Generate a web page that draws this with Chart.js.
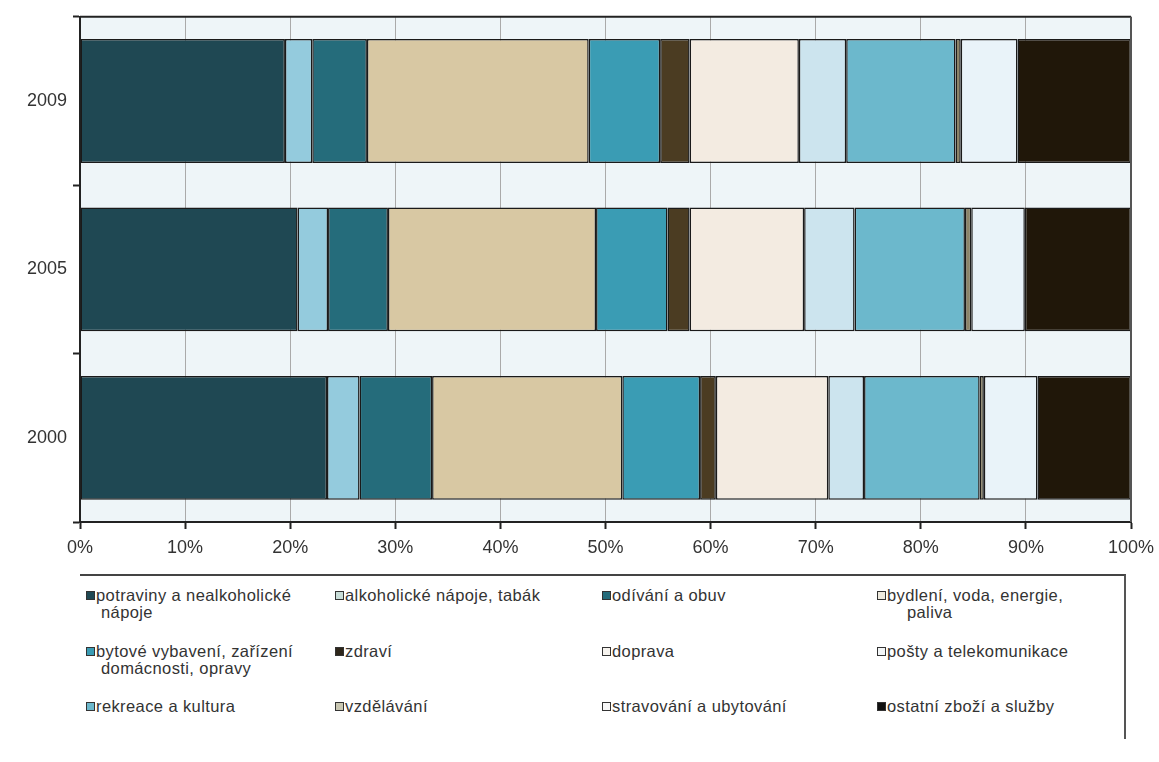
<!DOCTYPE html>
<html>
<head>
<meta charset="utf-8">
<script src="https://cdn.jsdelivr.net/npm/chart.js@4/dist/chart.umd.min.js"></script>
<style>
  html, body { margin: 0; padding: 0; background: #fff; }
  body { width: 1159px; height: 762px; position: relative; overflow: hidden; font-family: "Liberation Sans", Arial, sans-serif; }
  #wrap { position: absolute; left: 0; top: 0; width: 1159px; height: 565px; }
  #legend { position: absolute; left: 80px; top: 574px; width: 1046px; height: 165px;
            border-top: 2px solid #444; border-right: 2px solid #555; box-sizing: border-box; }
  .item { position: absolute; font-size: 16.5px; color: #333; line-height: 17px; white-space: pre; letter-spacing: 0.4px; }
  .box { position: absolute; left: -10px; top: 4px; width: 7px; height: 7px; border: 1px solid #333; }
</style>
</head>
<body>
<div id="wrap"><canvas id="c" width="1159" height="565"></canvas></div>
<div id="legend"></div>
<script>
const years = ['2009', '2005', '2000'];
const tickLabels = ['0%','10%','20%','30%','40%','50%','60%','70%','80%','90%','100%'];
const seriesNames = [
  'potraviny a nealkoholické\n nápoje',
  'alkoholické nápoje, tabák',
  'odívání a obuv',
  'bydlení, voda, energie,\n    paliva',
  'bytové vybavení, zařízení\n domácnosti, opravy',
  'zdraví',
  'doprava',
  'pošty a telekomunikace',
  'rekreace a kultura',
  'vzdělávání',
  'stravování a ubytování',
  'ostatní zboží a služby'
];
// values in %, per year [2009, 2005, 2000]
const potraviny     = [19.5, 20.7, 23.5];
const alkohol       = [2.6, 2.9, 3.1];
const odivani       = [5.2, 5.7, 6.9];
const bydleni       = [21.1, 19.8, 18.1];
const vybaveni      = [6.8, 6.8, 7.4];
const zdravi        = [2.8, 2.1, 1.5];
const doprava       = [10.4, 10.9, 10.7];
const posty         = [4.5, 4.8, 3.4];
const rekreace      = [10.4, 10.5, 11.0];
const vzdelavani    = [0.5, 0.6, 0.4];
const stravovani    = [5.4, 5.1, 5.1];
const ostatni       = [10.8, 10.1, 8.9];

const seriesValues = [potraviny, alkohol, odivani, bydleni, vybaveni, zdravi, doprava, posty, rekreace, vzdelavani, stravovani, ostatni];
const colors = ['#1f4853', '#94cbdd', '#256c7b', '#d8c8a3', '#3a9cb4', '#4b3c22',
                '#f3ebe1', '#cce4ee', '#6cb8cc', '#8c8468', '#e9f3f9', '#201709'];
const legendBoxColors = ['#1f4853', '#c8ddd8', '#256c7b', '#eeeade', '#3a9cb4', '#2e261a',
                         '#f6f3ee', '#f3f6f7', '#6cb8cc', '#c9c7b2', '#f8f8f8', '#111'];

const datasets = seriesValues.map((vals, i) => ({
  label: seriesNames[i].replace(/\n\s*/g, ' '),
  data: vals,
  backgroundColor: colors[i],
  borderColor: '#1a1a1a',
  borderWidth: 1.5,
  borderSkipped: false,
  categoryPercentage: 1.0,
  barPercentage: 0.735
}));

const bgPlugin = {
  id: 'bg',
  beforeDraw(chart) {
    const a = chart.chartArea, ctx = chart.ctx;
    ctx.save();
    ctx.fillStyle = '#eef5f8';
    ctx.fillRect(a.left, a.top, a.right - a.left, a.bottom - a.top);
    ctx.restore();
  },
  afterDraw(chart) {
    const a = chart.chartArea, ctx = chart.ctx;
    ctx.save();
    ctx.strokeStyle = '#222';
    ctx.lineWidth = 2;
    ctx.beginPath();
    ctx.moveTo(a.left, a.top); ctx.lineTo(a.right, a.top);
    ctx.stroke();
    ctx.strokeStyle = '#555';
    ctx.beginPath();
    ctx.moveTo(a.right, a.top); ctx.lineTo(a.right, a.bottom);
    ctx.stroke();
    ctx.restore();
  }
};

new Chart(document.getElementById('c'), {
  type: 'bar',
  data: { labels: years, datasets },
  options: {
    indexAxis: 'y',
    responsive: false,
    animation: false,
    layout: { padding: { left: 0, right: 28, top: 16, bottom: 0 } },
    plugins: { legend: { display: false }, tooltip: { enabled: false } },
    scales: {
      x: {
        stacked: true, min: 0, max: 100,
        afterFit(s) { s.height = 43; s.paddingRight = 0; s.paddingLeft = 0; },
        ticks: { stepSize: 10, padding: 8, color: '#333',
                 font: { family: 'Liberation Sans', size: 18 },
                 callback: (v, i) => tickLabels[i] },
        grid: { color: '#aaaaaa', lineWidth: 1, tickLength: 7, tickColor: '#222', tickWidth: 2 },
        border: { color: '#222', width: 2 }
      },
      y: {
        stacked: true,
        afterFit(s) { s.width = 80; },
        ticks: { padding: 6, color: '#333', font: { family: 'Liberation Sans', size: 18 } },
        grid: { drawOnChartArea: false, tickLength: 7, tickColor: '#222', tickWidth: 2, offset: true },
        border: { color: '#222', width: 2 }
      }
    }
  },
  plugins: [bgPlugin]
});

// HTML legend built from the series arrays
const legend = document.getElementById('legend');
const colX = [16, 265, 532, 807];
const rowY = [11, 67, 122];
seriesNames.forEach((name, i) => {
  const d = document.createElement('div');
  d.className = 'item';
  d.style.left = colX[i % 4] + 'px';
  d.style.top = rowY[Math.floor(i / 4)] + 'px';
  const b = document.createElement('span');
  b.className = 'box';
  b.style.background = legendBoxColors[i];
  d.appendChild(b);
  d.appendChild(document.createTextNode(name));
  legend.appendChild(d);
});
</script>
</body>
</html>
